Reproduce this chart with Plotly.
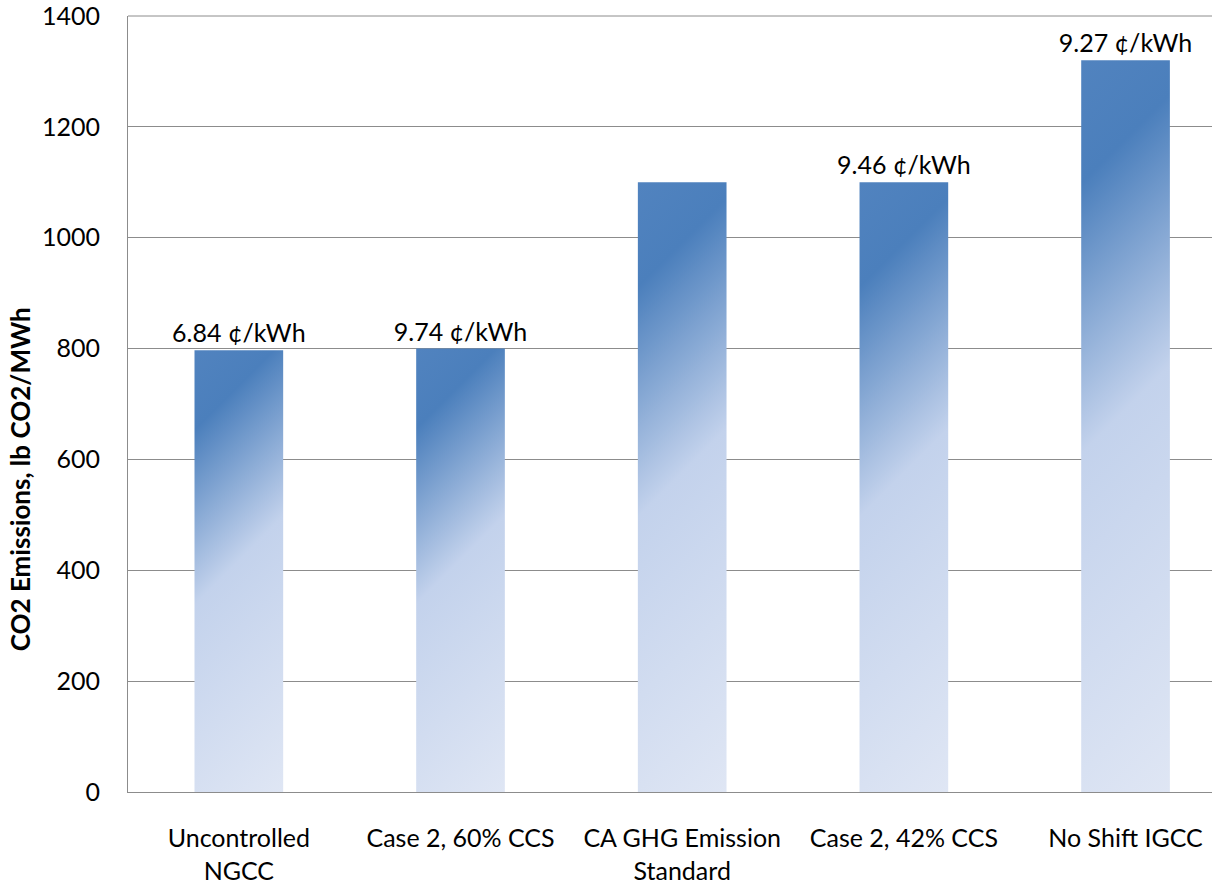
import json
import plotly.graph_objects as go

# Emission rates by plant configuration, with levelized cost labels
categories = [
    "Uncontrolled<br>NGCC",
    "Case 2, 60% CCS",
    "CA GHG Emission<br>Standard",
    "Case 2, 42% CCS",
    "No Shift IGCC",
]
emissions = [797, 800, 1100, 1100, 1320]
cost_labels = ["6.84 ¢/kWh", "9.74 ¢/kWh", "", "9.46 ¢/kWh", "9.27 ¢/kWh"]
y_ticks = [0, 200, 400, 600, 800, 1000, 1200, 1400]

FONT = "Lato"
GRID = "#8c8c8c"

# diagonal fade applied to each bar (offset along the 45° diagonal, colour)
fade_stops = [[0.0, "#5183bf"], [0.15, "#4b7fbc"], [0.48, "#c3d2ec"], [1.0, "#dfe6f4"]]

fig = go.Figure(
    go.Bar(
        x=categories,
        y=emissions,
        text=cost_labels,
        textposition="outside",
        constraintext="none",
        textfont=dict(family=FONT, size=25, color="#000000"),
        cliponaxis=False,
        width=0.4,
        marker=dict(color="#4f81bd", line=dict(width=0)),
        hoverinfo="x+y",
    )
)

fig.update_layout(
    width=1212,
    height=888,
    margin=dict(l=128, r=0, t=16, b=96),
    paper_bgcolor="white",
    plot_bgcolor="white",
    showlegend=False,
    font=dict(family=FONT, size=25, color="#000000"),
    xaxis=dict(
        type="category",
        range=[-0.5, 4.39],
        showline=True,
        linecolor=GRID,
        linewidth=1,
        ticks="",
        ticklabelstandoff=24,
        tickfont=dict(family=FONT, size=25),
        showgrid=False,
        zeroline=False,
    ),
    yaxis=dict(
        range=[0, y_ticks[-1]],
        tickvals=y_ticks,
        showline=True,
        linecolor=GRID,
        linewidth=1,
        showgrid=True,
        gridcolor=GRID,
        gridwidth=1,
        ticks="",
        ticklabelstandoff=22,
        ticklabeloverflow="allow",
        tickfont=dict(family=FONT, size=25),
        zeroline=False,
    ),
    # top edge of the plot area coincides with the last gridline
    shapes=[
        dict(
            type="line",
            xref="paper",
            yref="paper",
            x0=0,
            x1=1,
            y0=1,
            y1=1,
            line=dict(color=GRID, width=1),
            layer="above",
        )
    ],
    annotations=[
        dict(
            text="<b>CO2 Emissions, lb CO2/MWh</b>",
            textangle=-90,
            xref="paper",
            yref="paper",
            x=0,
            y=0.403,
            xanchor="center",
            yanchor="middle",
            xshift=-108,
            showarrow=False,
            font=dict(family=FONT, size=26, color="#000000"),
        )
    ],
)

post = """
var gd = document.getElementById('{plot_id}');
var ns = 'http://www.w3.org/2000/svg';
var defs = gd.querySelector('.main-svg defs');
var stops = %s;
gd.querySelectorAll('.bars .point path').forEach(function (p, i) {
  var b = p.getBBox();
  var L = (b.width + b.height) / 2;
  var g = document.createElementNS(ns, 'linearGradient');
  g.setAttribute('id', 'barfade' + i);
  g.setAttribute('gradientUnits', 'userSpaceOnUse');
  g.setAttribute('x1', b.x);
  g.setAttribute('y1', b.y);
  g.setAttribute('x2', b.x + L);
  g.setAttribute('y2', b.y + L);
  stops.forEach(function (s) {
    var st = document.createElementNS(ns, 'stop');
    st.setAttribute('offset', s[0]);
    st.setAttribute('stop-color', s[1]);
    g.appendChild(st);
  });
  defs.appendChild(g);
  p.style.fill = 'url(#barfade' + i + ')';
});
""" % json.dumps(fade_stops)

fig.write_html("out.html", post_script=post)
